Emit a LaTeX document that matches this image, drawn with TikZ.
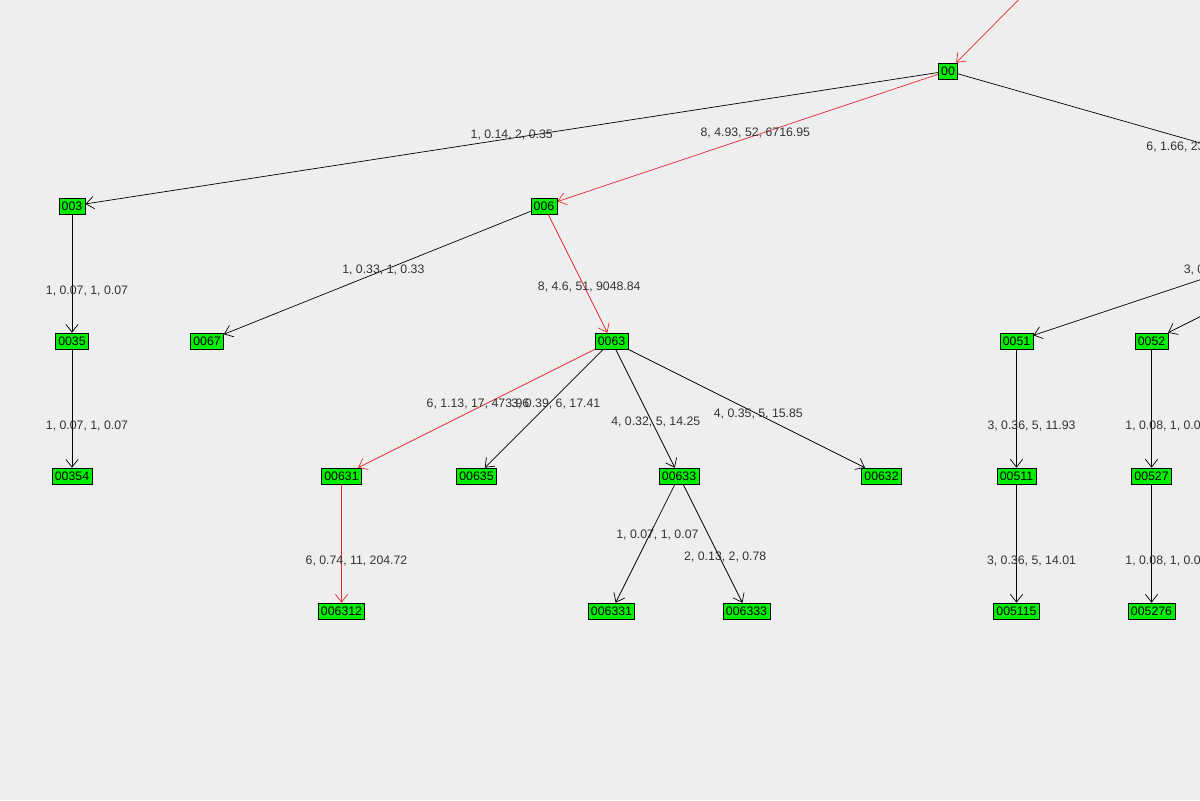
\documentclass[tikz,border=0pt]{standalone}
\usepackage{fontspec}
\setmainfont{Liberation Sans}
\usetikzlibrary{arrows.meta,positioning}
\definecolor{bgcol}{HTML}{EEEEEE}
\definecolor{vgreen}{HTML}{00EE00}
\definecolor{hotred}{HTML}{E8282E}
\definecolor{labgray}{HTML}{333333}

\begin{document}
\begin{tikzpicture}[node distance=2.7cm,on grid,
  vertex/.style={draw=black,fill=vgreen,font=\fontsize{7}{8}\selectfont,
    inner xsep=1.6pt,inner ysep=1pt,minimum height=9pt},
  lab/.style={font=\fontsize{7}{8}\selectfont,text=labgray,inner sep=0pt},
  down/.style={pos=.65,xshift=.3cm},
  hot/.style={draw=hotred}]
\useasboundingbox (0,0) rectangle (24,-16);
\fill[bgcol] (0,0) rectangle (24,-16);
\clip (0,0) rectangle (24,-16);

\node[vertex] (n003) at (1.44,-4.12) {003};
\node[vertex] (n0035) [below=of n003] {0035};
\node[vertex] (n00354) [below=of n0035] {00354};
\node[vertex] (n0067) [right=of n0035] {0067};
\node[vertex] (n006) [right=9.44cm of n003] {006};
\node[vertex] (n00) [above right=2.7cm and 8.08cm of n006] {00};
\coordinate[above right=1.86cm and 1.84cm of n00] (top);

% children of 0063
\node[vertex] (n0063) [below right=2.7cm and 1.35cm of n006] {0063};
\node[vertex] (n00631) [below left=2.7cm and 5.4cm of n0063] {00631};
\node[vertex] (n00635) [below left=2.7cm and 2.7cm of n0063] {00635};
\node[vertex] (n00633) [below right=2.7cm and 1.35cm of n0063] {00633};
\node[vertex] (n00632) [below right=2.7cm and 5.4cm of n0063] {00632};
\node[vertex] (n006312) [below=of n00631] {006312};
\node[vertex] (n006331) [below left=2.7cm and 1.35cm of n00633] {006331};
\node[vertex] (n006333) [below right=2.7cm and 1.35cm of n00633] {006333};

% right part
\node[vertex] (n0051) [right=8.1cm of n0063] {0051};
\node[vertex] (n0052) [right=of n0051] {0052};
\node[vertex] (n005) [above right=2.7cm and 5.4cm of n0052] {005};
\node[vertex] (n00511) [below=of n0051] {00511};
\node[vertex] (n005115) [below=of n00511] {005115};
\node[vertex] (n00527) [below=of n0052] {00527};
\node[vertex] (n005276) [below=of n00527] {005276};

\path[-{Straight Barb[length=4.5pt,width=7pt]},draw=black]
(top) edge[hot] node[lab,pos=.2] {8, 5.74, 77, 6662.85} (n00)
(n00) edge node[lab,pos=.5,yshift=.06cm] {1, 0.14, 2, 0.35} (n003)
      edge[hot] node[lab,pos=.48,yshift=.04cm] {8, 4.93, 52, 6716.95} (n006)
      edge node[lab,pos=.525,yshift=-.12cm] {6, 1.66, 23, 94.61} (n005)
(n003) edge node[lab,down] {1, 0.07, 1, 0.07} (n0035)
(n0035) edge node[lab,down] {1, 0.07, 1, 0.07} (n00354)
(n006) edge node[lab,pos=.48] {1, 0.33, 1, 0.33} (n0067)
       edge[hot] node[lab,pos=.61,xshift=.1cm] {8, 4.6, 51, 9048.84} (n0063)
(n0063) edge[hot] node[lab,pos=.46,xshift=-.16cm] {6, 1.13, 17, 473.96} (n00631)
        edge node[lab,pos=.46,xshift=.14cm] {3, 0.39, 6, 17.41} (n00635)
        edge node[lab,pos=.61,xshift=.08cm] {4, 0.32, 5, 14.25} (n00633)
        edge node[lab,pos=.55] {4, 0.35, 5, 15.85} (n00632)
(n00631) edge[hot] node[lab,down] {6, 0.74, 11, 204.72} (n006312)
(n00633) edge node[lab,pos=.43,xshift=.16cm] {1, 0.07, 1, 0.07} (n006331)
         edge node[lab,pos=.61,xshift=.12cm] {2, 0.13, 2, 0.78} (n006333)
(n005) edge node[lab,pos=.48] {3, 0.44, 5, 12.34} (n0051)
       edge (n0052)
(n0051) edge node[lab,down] {3, 0.36, 5, 11.93} (n00511)
(n00511) edge node[lab,down] {3, 0.36, 5, 14.01} (n005115)
(n0052) edge node[lab,down] {1, 0.08, 1, 0.08} (n00527)
(n00527) edge node[lab,down] {1, 0.08, 1, 0.08} (n005276)
;
\end{tikzpicture}
\end{document}
